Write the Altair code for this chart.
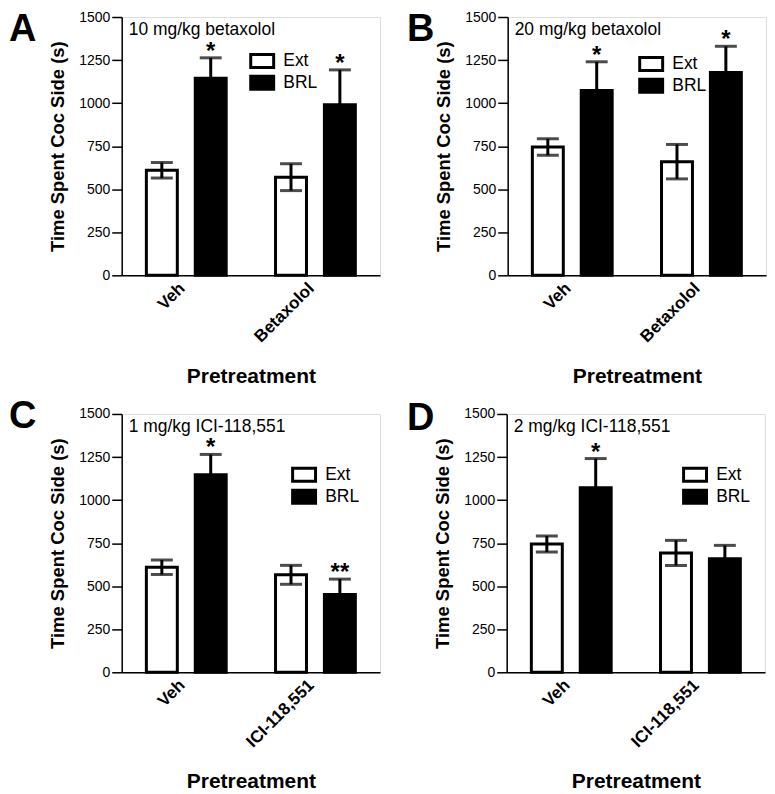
import altair as alt
import pandas as pd

# ---------------- data ----------------
groups = ["Ext", "BRL"]

cats_A = ["Veh", "Betaxolol"]
ext_A = [610, 570]
ext_err_A = [45, 78]
brl_A = [1145, 990]
brl_err_A = [118, 203]
star_A = ["*", "*"]
note_A = "10 mg/kg betaxolol"

cats_B = ["Veh", "Betaxolol"]
ext_B = [745, 660]
ext_err_B = [48, 100]
brl_B = [1073, 1178]
brl_err_B = [167, 152]
star_B = ["*", "*"]
note_B = "20 mg/kg betaxolol"

cats_C = ["Veh", "ICI-118,551"]
ext_C = [610, 566]
ext_err_C = [42, 55]
brl_C = [1147, 452]
brl_err_C = [118, 89]
star_C = ["*", "**"]
note_C = "1 mg/kg ICI-118,551"

cats_D = ["Veh", "ICI-118,551"]
ext_D = [745, 693]
ext_err_D = [47, 73]
brl_D = [1071, 660]
brl_err_D = [170, 77]
star_D = ["*", ""]
note_D = "2 mg/kg ICI-118,551"

FONT = "Liberation Sans"
W = 259
H = 259


def make_panel(letter, note, cats, ext, ext_err, brl, brl_err, stars, legend_xy, letter_xy,
               title_pad):
    rows = []
    for i, c in enumerate(cats):
        rows.append(dict(Pretreatment=c, Group="Ext", Mean=ext[i], lo=ext[i] - ext_err[i],
                         hi=ext[i] + ext_err[i], Star=""))
        rows.append(dict(Pretreatment=c, Group="BRL", Mean=brl[i], lo=brl[i] - brl_err[i],
                         hi=brl[i] + brl_err[i], Star=stars[i]))
    df = pd.DataFrame(rows)

    base = alt.Chart(df).encode(
        x=alt.X("Pretreatment:N", sort=cats,
                scale=alt.Scale(paddingInner=0.382, paddingOuter=0.191),
                axis=alt.Axis(title="Pretreatment", labelAngle=-45, ticks=False,
                              labelAlign="right", labelBaseline="middle",
                              labelFontSize=17, labelFontWeight="bold", labelFont=FONT,
                              labelPadding=10, labelOffset=-4, titleFontSize=21,
                              titleFontWeight="bold", titleFont=FONT,
                              titlePadding=title_pad, domainColor="black",
                              domainWidth=1.5, labelColor="black", titleColor="black")),
        xOffset=alt.XOffset("Group:N", sort=groups,
                            scale=alt.Scale(paddingInner=0.367, paddingOuter=0)),
    )
    yscale = alt.Scale(domain=[0, 1500])
    yaxis = alt.Axis(title="Time Spent Coc Side (s)", values=[0, 250, 500, 750, 1000, 1250, 1500],
                     format="d", grid=False, labelFontSize=14, labelFont=FONT,
                     labelColor="black", tickSize=10, tickWidth=1.5, tickColor="black",
                     labelPadding=2, domainColor="black", domainWidth=1.5,
                     titleFontSize=18.5, titleFontWeight="bold", titleFont=FONT,
                     titleColor="black", titlePadding=11)

    bars = base.mark_bar(stroke="black", strokeWidth=3).encode(
        y=alt.Y("Mean:Q", scale=yscale, axis=yaxis),
        fill=alt.Fill("Group:N", sort=groups,
                      scale=alt.Scale(domain=groups, range=["white", "black"]),
                      legend=alt.Legend(title=None, orient="none",
                                        legendX=legend_xy[0], legendY=legend_xy[1] - 1,
                                        symbolType="M-0.8,-0.85H2.2V0.85H-0.8Z",
                                        symbolSize=235, symbolStrokeColor="black",
                                        symbolStrokeWidth=3, labelFontSize=17.5,
                                        labelFont=FONT, labelColor="black",
                                        labelOffset=17, rowPadding=2, clipHeight=20)),
    )
    rule = base.mark_rule(color="black", strokeWidth=3).encode(
        y=alt.Y("lo:Q", scale=yscale), y2="hi:Q")
    cap_hi = base.mark_tick(color="black", thickness=3, size=22).encode(
        y=alt.Y("hi:Q", scale=yscale))
    cap_lo = base.mark_tick(color="black", thickness=3, size=22).encode(
        y=alt.Y("lo:Q", scale=yscale))
    star = base.mark_text(fontSize=24, fontWeight="bold", font=FONT, color="black", dy=1,
                          baseline="alphabetic").encode(
        y=alt.Y("hi:Q", scale=yscale), text="Star:N")

    note_df = pd.DataFrame({"t": [note]})
    note_t = alt.Chart(note_df).mark_text(align="left", baseline="alphabetic", fontSize=17.5,
                                          font=FONT, color="black").encode(
        x=alt.value(7), y=alt.value(18), text="t:N")
    letter_df = pd.DataFrame({"t": [letter]})
    letter_t = alt.Chart(letter_df).mark_text(align="left", baseline="alphabetic", fontSize=38,
                                              fontWeight="bold", font=FONT,
                                              color="black").encode(
        x=alt.value(letter_xy[0]), y=alt.value(letter_xy[1]), text="t:N")

    return alt.layer(bars, rule, cap_hi, cap_lo, star, note_t, letter_t).properties(
        width=W, height=H)


pA = make_panel("A", note_A, cats_A, ext_A, ext_err_A, brl_A, brl_err_A, star_A, (126, 35),
                (-113, 24), 21)
pB = make_panel("B", note_B, cats_B, ext_B, ext_err_B, brl_B, brl_err_B, star_B, (129, 38),
                (-101, 24), 21)
pC = make_panel("C", note_C, cats_C, ext_C, ext_err_C, brl_C, brl_err_C, star_C, (168, 52),
                (-113, 14), 21)
pD = make_panel("D", note_D, cats_D, ext_D, ext_err_D, brl_D, brl_err_D, star_D, (174, 52),
                (-100, 16), 21)


def row(a, b):
    return alt.hconcat(a, b, spacing=25).resolve_scale(
        x="independent", y="independent", fill="independent").resolve_legend(
        fill="independent")


chart = alt.vconcat(row(pA, pB), row(pC, pD), spacing=9).resolve_scale(
    x="independent", y="independent", fill="independent").resolve_legend(
    fill="independent").properties(padding=0).configure_view(
    stroke="#222", strokeWidth=1.2).configure(background="white")

chart.save("out.html", embed_options={"renderer": "svg", "actions": False})
